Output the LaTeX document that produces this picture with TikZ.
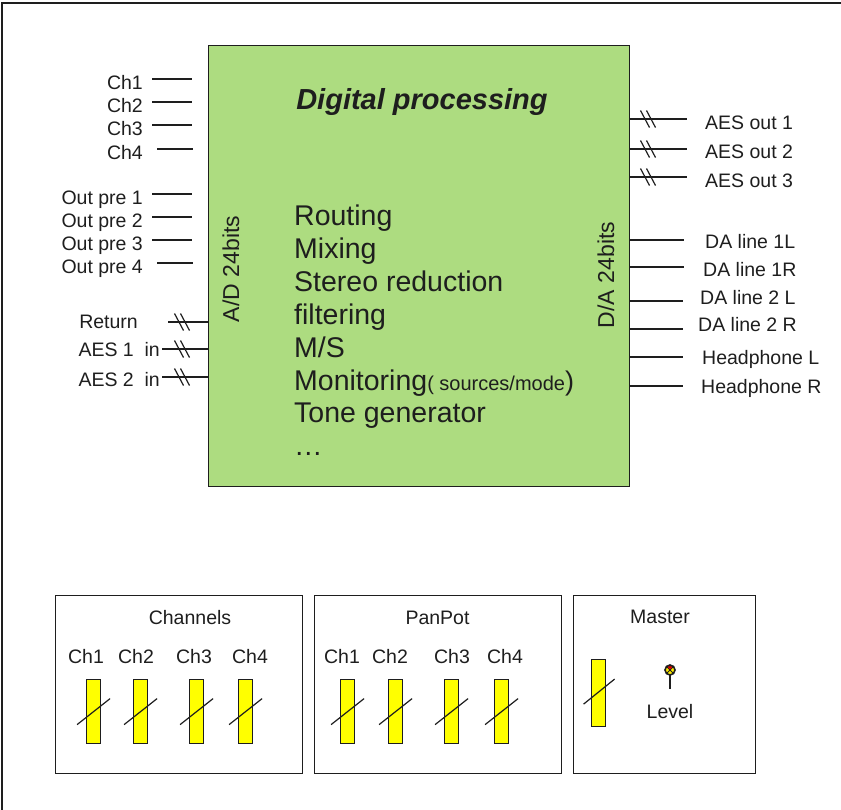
\documentclass[tikz,border=0pt]{standalone}
\usepackage{fontspec}
\setmainfont{Liberation Sans}
\definecolor{boxgreen}{RGB}{173,220,128}
\definecolor{ink}{RGB}{30,30,30}
\definecolor{slideryellow}{RGB}{255,255,0}
\newcommand\mydslash[2]{%
  \draw[wire] ({#1-7.5},{#2-8.5}) -- ({#1+1.5},{#2+8.5});
  \draw[wire] ({#1-1.5},{#2-8.5}) -- ({#1+7.5},{#2+8.5});}
\newcommand\myslider[3]{% name, left x, top y
  \node[slider, anchor=north west] (#1) at (#2,#3) {};
  \draw[wire] ([xshift=-16.5pt,yshift=-13pt]#1.center) -- ([xshift=16.5pt,yshift=13pt]#1.center);}
\begin{document}
\begin{tikzpicture}[x=1pt,y=-1pt,
  wire/.style={draw=ink,line width=1.2pt},
  lbl/.style={text=ink,inner sep=0pt,font=\fontsize{19.5}{20}\selectfont},
  biglbl/.style={text=ink,inner sep=0pt,font=\fontsize{28.5}{30}\selectfont},
  panel/.style={draw=ink,line width=1.3pt,fill=white,inner sep=0pt,anchor=north west},
  slider/.style={draw=ink,line width=1.2pt,fill=slideryellow,minimum width=14pt,minimum height=64pt,inner sep=0pt}]
\useasboundingbox (0,0) rectangle (841,810);
% outer frame (only top and left visible)
\draw[draw=ink,line width=1.3pt] (2,810) -- (2,3) -- (841,3);

% main processing block
\node[draw=ink,line width=1.4pt,fill=boxgreen,minimum width=421pt,minimum height=441pt,inner sep=0pt,anchor=north west] (dp) at (208,45) {};
\node[text=ink,inner sep=0pt,font=\fontsize{29}{30}\selectfont\bfseries\itshape,anchor=base] (title) at (422,110) {Digital processing};
\node[text=ink,inner sep=0pt,font=\fontsize{23}{24}\selectfont,rotate=90] (ad) at (231,269) {A/D 24bits};
\node[text=ink,inner sep=0pt,font=\fontsize{23}{24}\selectfont,rotate=90] (da) at (606,275) {D/A 24bits};

\node[biglbl,anchor=base west] (f1) at (294,226) {Routing};
\node[biglbl,anchor=base west] (f2) at (294,258.8) {Mixing};
\node[biglbl,anchor=base west] (f3) at (294,291.6) {Stereo reduction};
\node[biglbl,anchor=base west] (f4) at (294,324.4) {filtering};
\node[biglbl,anchor=base west] (f5) at (294,357.2) {M/S};
\node[biglbl,anchor=base west] (f6) at (294,390) {Monitoring{\fontsize{20}{20}\selectfont( sources/mode}{\fontsize{27}{28}\selectfont)}};
\node[biglbl,anchor=base west] (f7) at (294,422.8) {Tone generator};
\node[biglbl,anchor=base west] (f8) at (294,455.6) {\ldots};

% left inputs (free lines)
\foreach \n/\t/\y/\xa/\xb in {c1/Ch1/79/152/192, c2/Ch2/102/152/192, c3/Ch3/125/152/192, c4/Ch4/149/157/193,
  o1/Out pre 1/194/152/192, o2/Out pre 2/217/152/192, o3/Out pre 3/240/152/192, o4/Out pre 4/263/157/193} {
  \coordinate (\n a) at (\xa,\y);
  \coordinate (\n b) at (\xb,\y);
  \draw[wire] (\n a) -- (\n b);
  \node[lbl,anchor=base east] (\n t) at (143,\y+11) {\t};
}

% left digital inputs
\coordinate (reta) at (168,322);
\draw[wire] (reta) -- (reta -| dp.west);
\node[lbl,anchor=base east] (rett) at (138,329) {Return};
\mydslash{182}{322}
\coordinate (aes1a) at (162,349);
\draw[wire] (aes1a) -- (aes1a -| dp.west);
\node[lbl,anchor=base east] (aes1t) at (160,357) {AES 1\ \ in};
\mydslash{182}{349}
\coordinate (aes2a) at (162,377);
\draw[wire] (aes2a) -- (aes2a -| dp.west);
\node[lbl,anchor=base east] (aes2t) at (160,386) {AES 2\ \ in};
\mydslash{182}{377}

% right digital outputs
\foreach \n/\t/\y/\b in {ao1/AES out 1/119/130, ao2/AES out 2/149/159, ao3/AES out 3/177/188} {
  \coordinate (\n b) at (687,\y);
  \draw[wire] (\n b -| dp.east) -- (\n b);
  \mydslash{648}{\y}
  \node[lbl,anchor=base west] (\n t) at (705,\b) {\t};
}

% right analog outputs
\foreach \n/\t/\y/\b/\xe/\xt in {d1/DA line 1L/240/249/684/705, d2/DA line 1R/267/277/684/703,
  d3/DA line 2 L/301/305/683/700, d4/DA line 2 R/329/332/683/698,
  h1/Headphone L/357/365/683/702, h2/Headphone R/386/393/683/701} {
  \coordinate (\n b) at (\xe,\y);
  \draw[wire] (\n b -| dp.east) -- (\n b);
  \node[lbl,anchor=base west] (\n t) at (\xt,\b) {\t};
}

% bottom panels
\node[panel,minimum width=247pt,minimum height=178pt] (chan) at (55,595) {};
\node[lbl,anchor=base] (chant) at (190,624) {Channels};
\node[lbl,anchor=base] (cc1) at (86,663) {Ch1};
\node[lbl,anchor=base] (cc2) at (136,663) {Ch2};
\node[lbl,anchor=base] (cc3) at (194,663) {Ch3};
\node[lbl,anchor=base] (cc4) at (250,663) {Ch4};
\myslider{cs1}{86}{679}
\myslider{cs2}{133}{679}
\myslider{cs3}{189}{679}
\myslider{cs4}{238}{679}

\node[panel,minimum width=247pt,minimum height=178pt] (pan) at (314,595) {};
\node[lbl,anchor=base] (pant) at (437.5,624) {PanPot};
\node[lbl,anchor=base] (pc1) at (342,663) {Ch1};
\node[lbl,anchor=base] (pc2) at (390,663) {Ch2};
\node[lbl,anchor=base] (pc3) at (452,663) {Ch3};
\node[lbl,anchor=base] (pc4) at (505,663) {Ch4};
\myslider{ps1}{340}{679}
\myslider{ps2}{388}{679}
\myslider{ps3}{444}{679}
\myslider{ps4}{494}{679}

\node[panel,minimum width=182pt,minimum height=178pt] (mast) at (573,595) {};
\node[lbl,anchor=base] (mastt) at (660,623) {Master};
\node[slider,anchor=north west,minimum height=67pt] (ms) at (591,659) {};
\draw[wire] ([xshift=-15pt,yshift=-11pt]ms.center) -- ([xshift=16pt,yshift=14pt]ms.center);
% level lamp
\coordinate (lampc) at (670,670);
\coordinate (lampb) at (670,689);
\draw[wire] (lampc) -- (lampb);
\fill[slideryellow!85!orange] (lampc) circle (5pt);
\draw[ink,line width=0.8pt] (667,667) -- (673,673) (673,667) -- (667,673);
\fill[red!80!black] (670,667) circle (2pt);
\draw[ink,line width=1.6pt] (lampc) circle (5pt);
\node[lbl,anchor=base] (levelt) at (670,718) {Level};
\end{tikzpicture}
\end{document}
